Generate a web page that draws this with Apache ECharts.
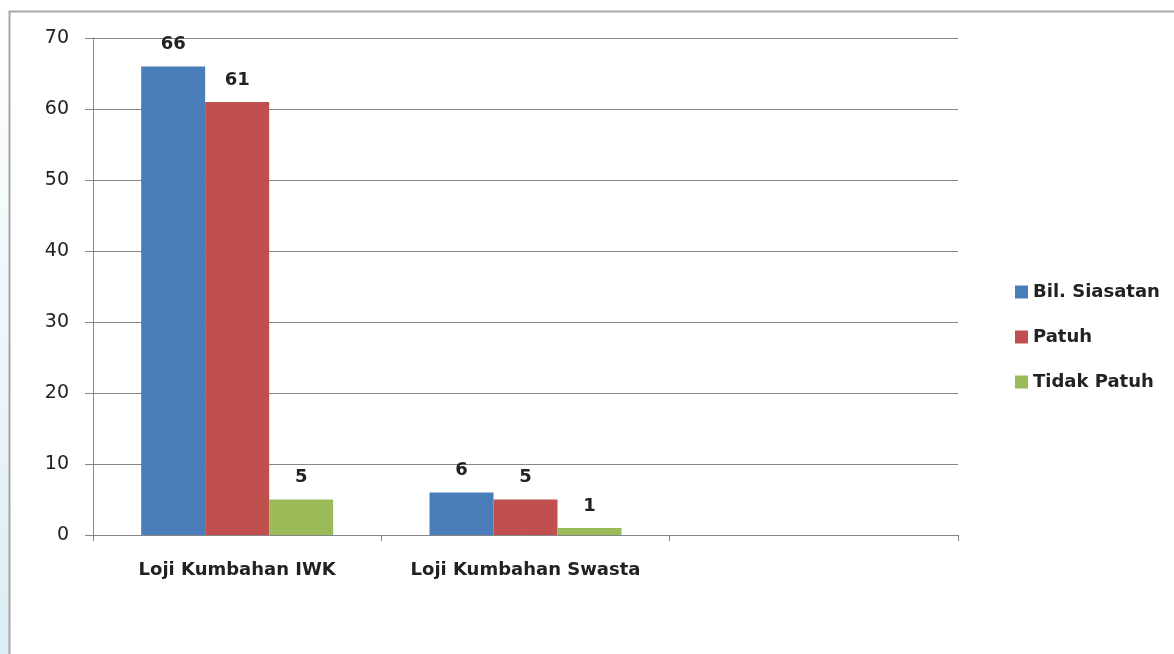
<!DOCTYPE html>
<html>
<head>
<meta charset="utf-8">
<script src="https://cdn.jsdelivr.net/npm/echarts@6/dist/echarts.min.js"></script>
<style>html,body{margin:0;padding:0;background:#fff;}#c{width:1174px;height:654px;}</style>
</head>
<body>
<div id="c"></div>
<script>
const categories = ['Loji Kumbahan IWK', 'Loji Kumbahan Swasta', ''];
const seriesNames = ['Bil. Siasatan', 'Patuh', 'Tidak Patuh'];
const bilSiasatan = [66, 6, '-'];
const patuh = [61, 5, '-'];
const tidakPatuh = [5, 1, '-'];
const yTicks = [0, 10, 20, 30, 40, 50, 60, 70];
const colors = ['#4a7ebb', '#c0504d', '#9bbb59'];

const chart = echarts.init(document.getElementById('c'), null, {renderer: 'canvas'});
const font = '"DejaVu Sans", sans-serif';
const mk = (name, data, i) => ({
  name, type: 'bar', data, barWidth: 64, barGap: '0%',
  itemStyle: {color: colors[i]},
  label: {show: true, position: 'top', distance: 13, fontFamily: font, fontWeight: 'bold', fontSize: 18, color: '#222'}
});
chart.setOption({
  animation: false,
  backgroundColor: '#fff',
  textStyle: {fontFamily: font},
  graphic: [{
    type: 'rect', shape: {x: 0, y: 0, width: 9, height: 654},
    style: {fill: new echarts.graphic.LinearGradient(0, 0, 0, 1, [
      {offset: 0, color: '#ffffff'}, {offset: 1, color: '#dcedf5'}])},
    silent: true, z: -2
  }, {
    type: 'rect', shape: {x: 9.5, y: 11.5, width: 1200, height: 700},
    style: {fill: 'none', stroke: '#a6a6a6', lineWidth: 2}, silent: true, z: -1
  }],
  grid: {left: 93, right: 216, top: 38, bottom: 119},
  legend: {
    orient: 'vertical', left: 1015, top: 283, itemGap: 27, padding: 0,
    itemWidth: 13, itemHeight: 13, icon: 'rect',
    textStyle: {fontFamily: font, fontWeight: 'bold', fontSize: 18, color: '#222'},
    data: seriesNames
  },
  xAxis: {
    type: 'category', data: categories,
    axisLine: {lineStyle: {color: '#868686', width: 1}},
    axisTick: {show: true, length: 6, lineStyle: {color: '#868686'}},
    axisLabel: {interval: 0, fontFamily: font, fontWeight: 'bold', fontSize: 18, color: '#222', margin: 26}
  },
  yAxis: {
    type: 'value', min: 0, max: 70, interval: 10,
    axisLine: {show: true, lineStyle: {color: '#868686'}},
    axisTick: {show: true, length: 8, lineStyle: {color: '#868686'}},
    splitLine: {lineStyle: {color: '#868686', width: 1}},
    axisLabel: {fontFamily: font, fontSize: 19, color: '#222', margin: 24,
      formatter: v => yTicks.includes(v) ? String(v) : ''}
  },
  series: [mk(seriesNames[0], bilSiasatan, 0), mk(seriesNames[1], patuh, 1), mk(seriesNames[2], tidakPatuh, 2)]
});
</script>
</body>
</html>
